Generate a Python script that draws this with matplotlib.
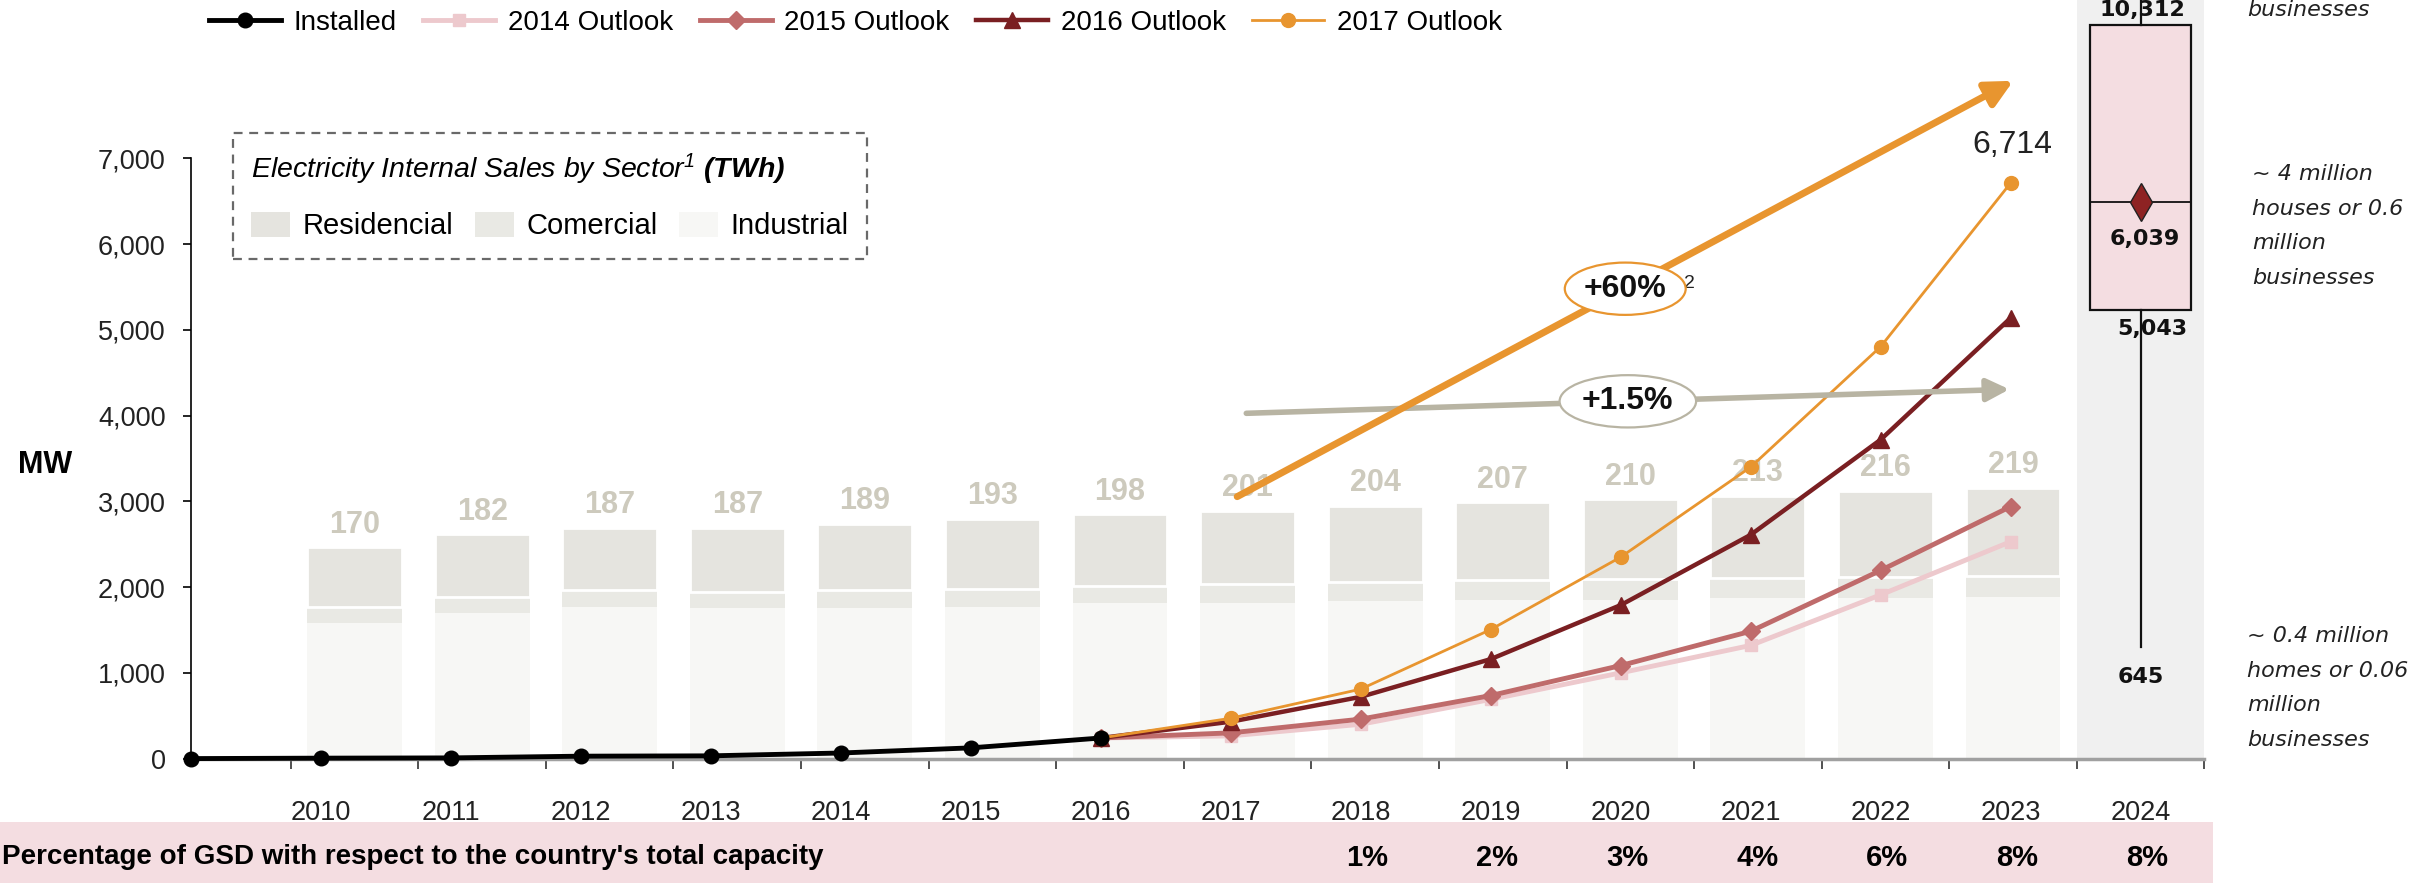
import numpy as np
import matplotlib
matplotlib.use('Agg')
import matplotlib.pyplot as plt
from matplotlib import transforms
from matplotlib.patches import Ellipse, Patch
from matplotlib.ticker import FuncFormatter

plt.rcParams['font.family'] = ['Liberation Sans', 'DejaVu Sans']
plt.rcParams['mathtext.fontset'] = 'custom'
plt.rcParams['mathtext.rm'] = 'Liberation Sans:italic'
plt.rcParams['mathtext.it'] = 'Liberation Sans:italic'
plt.rcParams['mathtext.bf'] = 'Liberation Sans:bold:italic'

# ---- data ----
years_inst = [2009, 2010, 2011, 2012, 2013, 2014, 2015, 2016]
installed = [0, 5, 8, 28, 32, 65, 125, 240]

years_out = [2016, 2017, 2018, 2019, 2020, 2021, 2022, 2023]
outlook_2014 = [240, 265, 400, 690, 1000, 1320, 1910, 2530]
outlook_2015 = [240, 300, 460, 735, 1085, 1485, 2195, 2940]
outlook_2016 = [240, 430, 720, 1160, 1790, 2610, 3720, 5140]
outlook_2017 = [240, 470, 810, 1505, 2350, 3400, 4805, 6714]

# electricity internal sales (TWh), drawn on the MW axis with a fixed factor
sales_years = list(range(2010, 2024))
sales_industrial = [109.2, 117.3, 122.6, 121.2, 121.2, 122.6, 125.3, 125.3, 127.2, 128.0, 128.0, 129.3, 129.9, 130.7]
sales_comercial = [13.4, 13.4, 13.5, 13.4, 14.8, 14.3, 14.2, 15.3, 15.1, 16.1, 17.0, 16.7, 17.0, 17.0]
sales_residencial = [47.9, 50.2, 50.3, 51.7, 53.3, 56.5, 57.7, 59.2, 61.9, 62.7, 64.3, 66.0, 69.1, 71.1]
sales_total = [170, 182, 187, 187, 189, 193, 198, 201, 204, 207, 210, 213, 216, 219]
mw_per_twh = 14.45

# growth arrows (start, end)
arrow_60_x = [2017.05, 2023.02]
arrow_60_y = [3055, 7905]
arrow_15_x = [2017.12, 2022.99]
arrow_15_y = [4027, 4307]

# 2024 range (box)
box_q1, box_med, box_q3, box_low, box_high = 5043, 6039, 10312, 645, 11500
# schematic scale used for the box panel (value -> MW-axis position)
box_knots_val = [0, 645, 5043, 6039, 10312, 30000]
box_knots_pos = [0, 1296, 5236, 6496, 8553, 20000]

pct_years = [2018, 2019, 2020, 2021, 2022, 2023, 2024]
pct_labels = ['1%', '2%', '3%', '4%', '6%', '8%', '8%']
tick_years = list(range(2010, 2025))

c_inst = '#000000'
c_2014 = '#edc9cd'
c_2015 = '#bf6b6b'
c_2016 = '#7a1f22'
c_2017 = '#e8952f'
c_res = '#e5e4df'
c_com = '#e9e9e4'
c_ind = '#f7f7f5'
c_grey_arrow = '#b8b4a3'
c_pink = '#f4dde1'

fig = plt.figure(figsize=(24.35, 8.83), dpi=100)
ax = fig.add_axes([0.0783, 0.1409, 0.8270, 0.6797])
ax.set_xlim(2009, 2024.49)
ax.set_ylim(0, 7000)

cat_edges = np.linspace(2009.77, 2024.49, 16)
cat_mid = (cat_edges[:-1] + cat_edges[1:]) / 2
bar_x = cat_mid[:len(sales_years)]

# grey panel behind 2024
span = ax.axvspan(cat_edges[14], cat_edges[15], ymin=0, ymax=1.5,
                  color='#f0f0f0', zorder=0, lw=0)
span.set_clip_on(False)

# stacked bars
ind_mw = np.array(sales_industrial) * mw_per_twh
com_mw = np.array(sales_comercial) * mw_per_twh
res_mw = np.array(sales_residencial) * mw_per_twh
ax.bar(bar_x, ind_mw, width=0.73, color=c_ind, zorder=1)
ax.bar(bar_x, com_mw, bottom=ind_mw, width=0.73, color=c_com, zorder=1)
res_bars = ax.bar(bar_x, res_mw, bottom=ind_mw + com_mw, width=0.73, color=c_res,
                  edgecolor='white', linewidth=2, zorder=1.1)
ax.bar_label(res_bars, labels=[str(v) for v in sales_total], padding=5.5,
             fontsize=22, fontweight='bold', color='#cdcabd', zorder=2)

# lines
l14, = ax.plot(years_out, outlook_2014, color=c_2014, lw=3.5, marker='s', ms=9, zorder=3.1, label='2014 Outlook')
l15, = ax.plot(years_out, outlook_2015, color=c_2015, lw=3.5, marker='D', ms=9, zorder=3.2, label='2015 Outlook')
l16, = ax.plot(years_out, outlook_2016, color=c_2016, lw=3.2, marker='^', ms=12, zorder=3.3, label='2016 Outlook')
l17, = ax.plot(years_out, outlook_2017, color=c_2017, lw=2.0, marker='o', ms=10, zorder=3.4, label='2017 Outlook')
li, = ax.plot(years_inst, installed, color=c_inst, lw=3.5, marker='o', ms=10.5, zorder=3.5,
              label='Installed', clip_on=False)

ax.annotate(f"{outlook_2017[-1]:,}", xy=(years_out[-1], outlook_2017[-1]), xytext=(1, 27),
            textcoords='offset points', ha='center', va='center', fontsize=23, color='#222222')

# growth arrows with ellipses
ax.annotate('', xy=(arrow_15_x[1], arrow_15_y[1]), xytext=(arrow_15_x[0], arrow_15_y[0]),
            arrowprops=dict(arrowstyle='-|>', color=c_grey_arrow, lw=4, shrinkA=0, shrinkB=0,
                            mutation_scale=34), zorder=5, annotation_clip=False)
ax.annotate('', xy=(arrow_60_x[1], arrow_60_y[1]), xytext=(arrow_60_x[0], arrow_60_y[0]),
            arrowprops=dict(arrowstyle='-|>', color=c_2017, lw=5, shrinkA=0, shrinkB=0,
                            mutation_scale=40), zorder=5.5, annotation_clip=False)

for xs, ys, w, col, txt in [(arrow_60_x, arrow_60_y, 0.93, c_2017, '+60%'),
                            (arrow_15_x, arrow_15_y, 1.05, c_grey_arrow, '+1.5%')]:
    cx, cy = np.mean(xs), np.mean(ys)
    ax.add_patch(Ellipse((cx, cy), width=w, height=610, facecolor='white',
                         edgecolor=col, lw=1.6, zorder=6, clip_on=False))
    ax.text(cx, cy, txt, ha='center', va='center', fontsize=23, fontweight='bold',
            color='#111111', zorder=7)
ax.annotate('2', xy=(np.mean(arrow_60_x), np.mean(arrow_60_y)), xytext=(46, 4),
            textcoords='offset points', ha='center', va='center', fontsize=14, color='#222222')

# axes styling
ax.spines['top'].set_visible(False)
ax.spines['right'].set_visible(False)
ax.spines['left'].set_bounds(0, 7000)
ax.spines['left'].set_linewidth(1.2)
ax.spines['bottom'].set_color('#a0a0a0')
ax.spines['bottom'].set_linewidth(2.5)
ax.set_yticks(range(0, 7001, 1000))
ax.yaxis.set_major_formatter(FuncFormatter(lambda v, p: f"{v:,.0f}"))
ax.tick_params(axis='y', length=6, width=1.2, pad=12, labelsize=19.5, labelcolor='#222222')
ax.set_xticks(cat_edges)
ax.set_xticklabels([])
ax.set_xticks(tick_years, minor=True)
ax.set_xticklabels([str(y) for y in tick_years], minor=True)
ax.tick_params(axis='x', which='major', length=7, width=1.2, color='#333333')
ax.tick_params(axis='x', which='minor', length=0, pad=30, labelsize=19.5, labelcolor='#222222')

# 2024 box on a schematic scale
def box_fwd(v):
    return np.interp(v, box_knots_val, box_knots_pos)

def box_inv(p):
    return np.interp(p, box_knots_pos, box_knots_val)

bx = ax.twinx()
bx.set_yscale('function', functions=(box_fwd, box_inv))
bx.set_ylim(0, float(box_inv(7000)))
bx.axis('off')
stats = [dict(med=box_med, q1=box_q1, q3=box_q3, whislo=box_low, whishi=box_high, mean=box_med)]
arts = bx.bxp(stats, positions=[2024], widths=0.78, showmeans=True, showcaps=False,
              showfliers=False, patch_artist=True, manage_ticks=False,
              boxprops=dict(facecolor=c_pink, edgecolor='#111111', lw=1.6),
              medianprops=dict(color='#111111', lw=1.3),
              whiskerprops=dict(color='#111111', lw=1.6),
              meanprops=dict(marker='d', markerfacecolor='#8e2323', markeredgecolor='#222222',
                             markersize=19))
for key in arts:
    for a in arts[key]:
        a.set_clip_on(False)
box_font = dict(family='DejaVu Sans', fontsize=16, fontweight='bold', color='#111111',
                ha='center', va='center')
for val, off in [(box_q3, (1, 11)), (box_med, (3, -27)), (box_q1, (8, -14)), (box_low, (0, -21))]:
    bx.annotate(f"{val:,}", xy=(2024, val), xytext=off, textcoords='offset points',
                annotation_clip=False, **box_font)

# side notes
note_font = dict(family='DejaVu Sans', style='italic', fontsize=16, color='#222222',
                 ha='left', va='center', linespacing=1.9)
fig.text(2247 / 2435, 1 - 10 / 883, 'businesses', **note_font)
fig.text(2252 / 2435, 1 - 226 / 883, '~ 4 million\nhouses or 0.6\nmillion\nbusinesses', **note_font)
fig.text(2247 / 2435, 1 - 688 / 883, '~ 0.4 million\nhomes or 0.06\nmillion\nbusinesses', **note_font)

# y label
fig.text(45 / 2435, 1 - 465 / 883, 'MW', fontsize=22, fontweight='bold', ha='center', va='center')

# bottom band with percentages
band = plt.Rectangle((0, 0), 2213 / 2435, 1 - 821.7 / 883, transform=fig.transFigure,
                     facecolor=c_pink, edgecolor='none', zorder=-1)
fig.patches.append(band)
fig.text(2 / 2435, 1 - 857 / 883, "Percentage of GSD with respect to the country's total capacity",
         fontsize=20, fontweight='bold', ha='left', va='center')
band_tr = transforms.blended_transform_factory(ax.transData, fig.transFigure)
for yr, lab in zip(pct_years, pct_labels):
    fig.text(yr + 0.05, 1 - 858 / 883, lab, transform=band_tr, fontsize=21, fontweight='bold',
             ha='center', va='center', zorder=5)

# series legend on top
fig.legend(handles=[li, l14, l15, l16, l17], loc='center left',
           bbox_to_anchor=(209 / 2435, 1 - 23 / 883), ncol=5, frameon=False,
           fontsize=20, handlelength=2.6, handletextpad=0.45, columnspacing=0.95,
           borderpad=0, borderaxespad=0)

# sector legend (dashed box)
sector_handles = [Patch(facecolor=c_res, label='Residencial'),
                  Patch(facecolor=c_com, label='Comercial'),
                  Patch(facecolor=c_ind, label='Industrial')]
leg = ax.legend(handles=sector_handles, loc='upper left',
                bbox_to_anchor=(232.7 / 2435, 1 - 133.3 / 883), bbox_transform=fig.transFigure,
                ncol=3, fontsize=21, frameon=True, fancybox=False, borderaxespad=0,
                handlelength=1.34, handleheight=0.92, handletextpad=0.41, columnspacing=0.75,
                borderpad=0.64, labelspacing=0.85, alignment='left',
                title=r"Electricity Internal Sales by Sector$^{1}$ $\mathbf{(TWh)}$",
                title_fontproperties=dict(style='italic', size=20.5))
frame = leg.get_frame()
frame.set_linestyle((0, (4, 3)))
frame.set_edgecolor('#444444')
frame.set_linewidth(1.6)
leg.set_zorder(8)

plt.savefig('out.png', dpi=100)
